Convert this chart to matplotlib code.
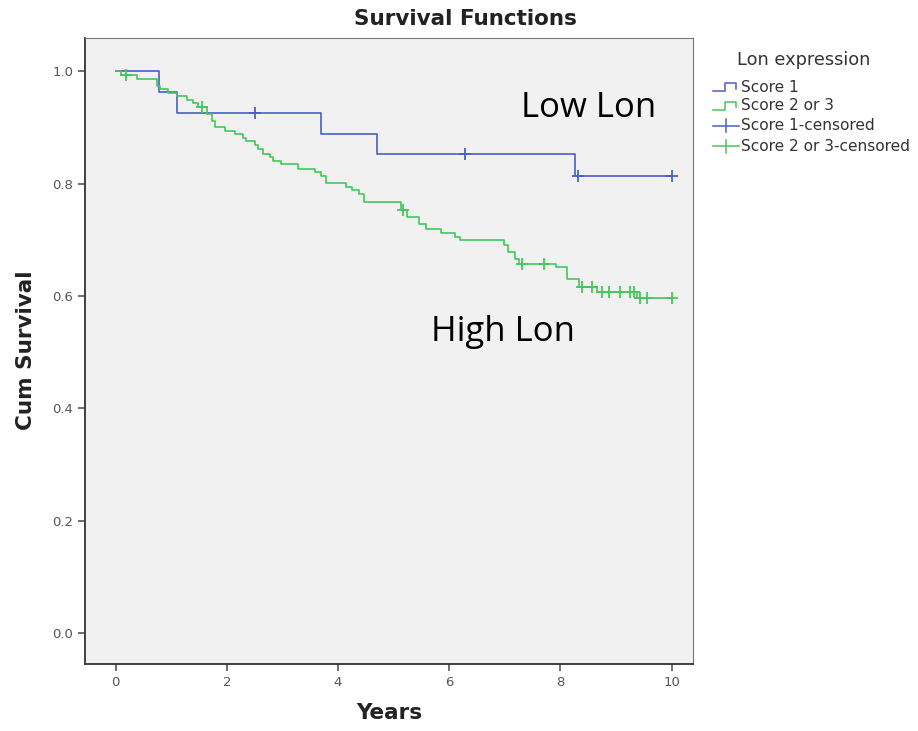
import matplotlib
matplotlib.use("Agg")
import matplotlib.pyplot as plt
from matplotlib.lines import Line2D

# Score 1 (low Lon): event times (years) and survival after each event
low_times = [0.78, 1.10, 3.70, 4.70, 8.27]
low_surv = [0.963, 0.926, 0.889, 0.852, 0.813]
low_cens_times = [2.50, 6.28, 8.32, 10.0]

# Score 2 or 3 (high Lon)
high_times = [0.10, 0.38, 0.74, 0.80, 0.95, 1.10, 1.28, 1.40, 1.49, 1.64, 1.73, 1.78,
              1.96, 2.14, 2.29, 2.35, 2.50, 2.56, 2.65, 2.77, 2.83, 2.98, 3.28, 3.58,
              3.70, 3.78, 4.14, 4.26, 4.38, 4.47, 5.13, 5.25, 5.46, 5.58, 5.86, 6.10,
              6.20, 6.98, 7.06, 7.19, 7.25, 7.92, 8.12, 8.33, 8.66, 9.38]
high_surv = [0.993, 0.987, 0.974, 0.968, 0.962, 0.955, 0.949, 0.943, 0.937, 0.924, 0.912, 0.900,
             0.894, 0.888, 0.882, 0.876, 0.868, 0.862, 0.853, 0.847, 0.841, 0.835, 0.826, 0.820,
             0.814, 0.801, 0.794, 0.788, 0.782, 0.767, 0.753, 0.740, 0.728, 0.719, 0.712, 0.705,
             0.699, 0.690, 0.678, 0.666, 0.657, 0.651, 0.631, 0.616, 0.607, 0.597]
high_cens_times = [0.18, 1.56, 5.17, 7.31, 7.70, 8.38, 8.56, 8.74, 8.88, 9.07, 9.25, 9.33,
                   9.43, 9.55, 10.0]

legend_labels = ["Score 1", "Score 2 or 3", "Score 1-censored", "Score 2 or 3-censored"]

blue = "#4a5fc4"
green = "#45c75b"


def step_path(times, surv, end):
    xs, ys = [0.0], [1.0]
    for t, s in zip(times, surv):
        xs += [t, t]
        ys += [ys[-1], s]
    xs.append(end)
    ys.append(ys[-1])
    return xs, ys


def level_at(times, surv, t):
    v = 1.0
    for tt, s in zip(times, surv):
        if tt <= t:
            v = s
    return v


fig = plt.figure(figsize=(9.18, 7.31), dpi=100)
ax = fig.add_axes([0.0926, 0.0917, 0.662, 0.857])
ax.set_facecolor("#f1f1f1")

for times, surv, cens, col in [(low_times, low_surv, low_cens_times, blue),
                               (high_times, high_surv, high_cens_times, green)]:
    xs, ys = step_path(times, surv, 10.0)
    ax.plot(xs, ys, color=col, lw=1.2)
    cy = [level_at(times, surv, t) for t in cens]
    ax.plot(cens, cy, ls="none", marker="+", ms=8, mew=1.3, color=col)

ax.set_xlim(-0.55, 10.38)
ax.set_ylim(-0.055, 1.06)
ax.set_xticks([0, 2, 4, 6, 8, 10])
ax.set_yticks([0.0, 0.2, 0.4, 0.6, 0.8, 1.0])
ax.set_yticklabels(["0.0", "0.2", "0.4", "0.6", "0.8", "1.0"])
ax.tick_params(colors="#555555", labelsize=9.5, length=5, width=1.2)
for side in ["left", "bottom"]:
    ax.spines[side].set_color("#333333")
    ax.spines[side].set_linewidth(1.3)
for side in ["top", "right"]:
    ax.spines[side].set_color("#777777")
    ax.spines[side].set_linewidth(0.8)

ax.set_xlabel("Years", fontsize=15.5, fontweight="bold", color="#222222", labelpad=10)
ax.set_ylabel("Cum Survival", fontsize=15.5, fontweight="bold", color="#222222", labelpad=12)
fig.text(0.507, 0.974, "Survival Functions", ha="center", va="center",
         fontsize=15.5, fontweight="bold", color="#222222")

ax.text(8.51, 0.935, "Low Lon", fontsize=25, fontfamily="Open Sans", ha="center", va="center")
ax.text(6.97, 0.535, "High Lon", fontsize=25, fontfamily="Open Sans", ha="center", va="center")

# legend drawn at figure level, outside the plot
fig.text(0.803, 0.918, "Lon expression", fontsize=12.8, color="#333333", ha="left", va="center")
ys_leg = [0.880, 0.855, 0.828, 0.800]
cols_leg = [blue, green, blue, green]
x0, x1 = 0.777, 0.805
for i, (yy, col, lab) in enumerate(zip(ys_leg, cols_leg, legend_labels)):
    if i < 2:
        fig.add_artist(Line2D([x0, x0 + 0.013, x0 + 0.013, x1 - 0.003, x1 - 0.003],
                              [yy - 0.005, yy - 0.005, yy + 0.006, yy + 0.006, yy - 0.002],
                              color=col, lw=1.1, transform=fig.transFigure))
    else:
        fig.add_artist(Line2D([x0, x1], [yy, yy], color=col, lw=1.1, transform=fig.transFigure))
        fig.add_artist(Line2D([(x0 + x1) / 2] * 2, [yy - 0.009, yy + 0.009], color=col, lw=1.1,
                              transform=fig.transFigure))
    fig.text(x1 + 0.002, yy, lab, fontsize=11.1, color="#333333", ha="left", va="center")

fig.savefig("out.png", dpi=100)
